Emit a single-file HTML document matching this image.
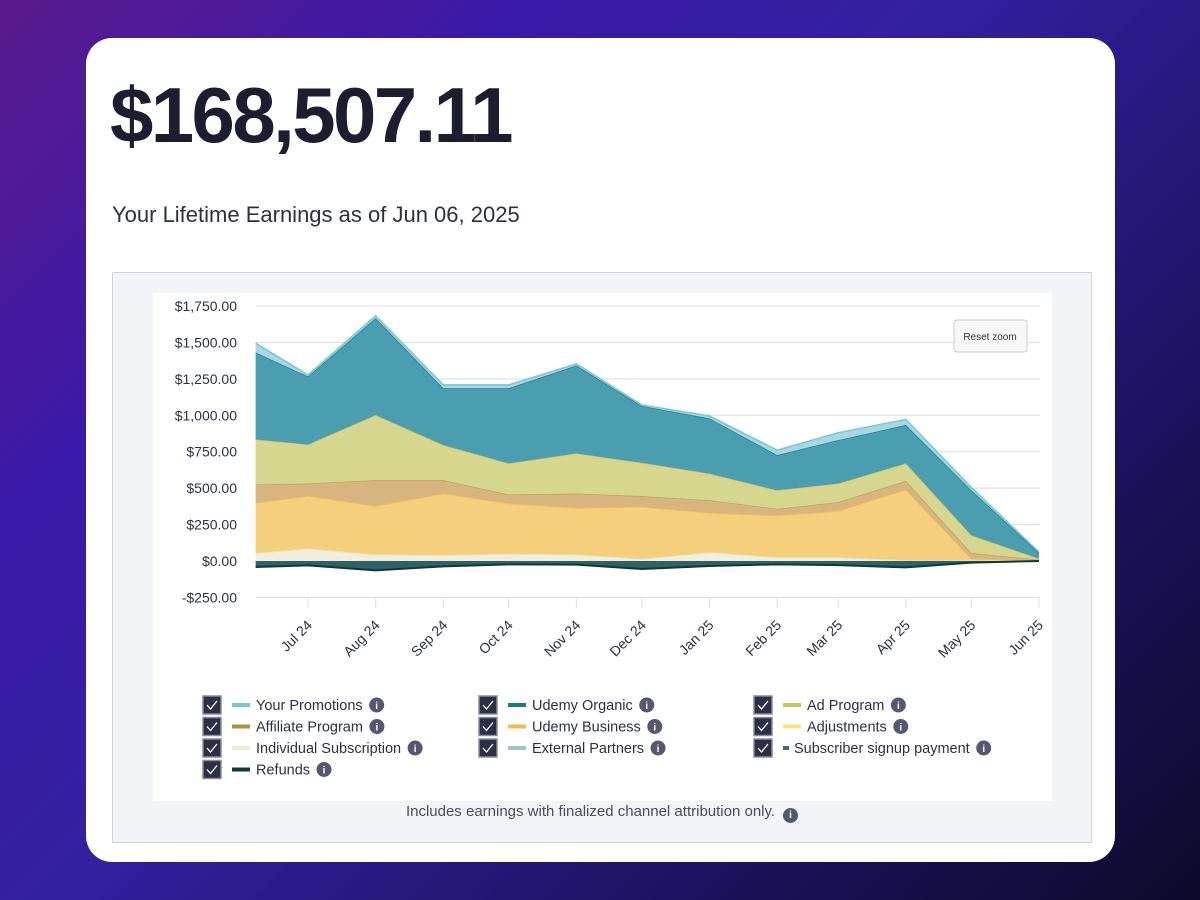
<!DOCTYPE html>
<html><head><meta charset="utf-8"><style>
*{margin:0;padding:0;box-sizing:border-box}
body{width:1200px;height:900px;overflow:hidden;font-family:"Liberation Sans",sans-serif;background:linear-gradient(135deg,#5a1a8c 0%,#3a1aa8 25%,#3320a0 45%,#1c1260 75%,#0d0a2a 100%);position:relative}
.card{position:absolute;left:86px;top:38px;width:1029px;height:824px;background:#fff;border-radius:26px}
h1{position:absolute;left:24px;top:32px;font-size:78px;font-weight:bold;color:#1c1d2f;letter-spacing:-2.6px}
.sub{position:absolute;left:26px;top:164px;font-size:22px;color:#2d2f45}
.panel{position:absolute;left:26px;top:234px;width:980px;height:571px;background:#f3f4f7;border:1px solid #d0d2dc}
.inner{position:absolute;left:40px;top:20px;width:899px;height:508px;background:#fff}
.note{position:absolute;left:0;width:100%;top:530px;text-align:center;font-size:15px;color:#4a4c60}
.info{display:inline-block;width:15px;height:15px;border-radius:50%;background:#555870;color:#fff;font-size:10px;font-weight:bold;text-align:center;line-height:15px;vertical-align:-2px;margin-left:8px}
</style></head><body>
<div class="card">
<h1>$168,507.11</h1>
<div class="sub">Your Lifetime Earnings as of Jun 06, 2025</div>
<div class="panel">
<div class="inner"></div>
<div class="note">Includes earnings with finalized channel attribution only.<span class="info">i</span></div>
</div></div>
<svg id="chart" width="1200" height="900" style="position:absolute;left:0;top:0"></svg>
<script>
const dates=["2024-06-07","2024-07-01","2024-08-01","2024-09-01","2024-10-01","2024-11-01","2024-12-01","2025-01-01","2025-02-01","2025-03-01","2025-04-01","2025-05-01","2025-06-01"];
const tickLabels=["Jul 24","Aug 24","Sep 24","Oct 24","Nov 24","Dec 24","Jan 25","Feb 25","Mar 25","Apr 25","May 25","Jun 25"];
const yTicks=[1750,1500,1250,1000,750,500,250,0,-250];
const individualSub=[55,85,45,40,50,45,15,60,25,25,5,5,0];
const udemyBusiness=[345,362,333,423,345,320,357,270,287,319,485,11,5];
const affiliate=[125,85,177,92,61,98,73,87,46,60,60,39,4];
const adProgram=[310,268,447,241,214,276,229,183,128,128,120,122,7];
const udemyOrganic=[596,466,665,390,516,603,390,379,241,298,263,309,41];
const promotions=[64,11,16,23,23,11,7,16,34,50,39,19,5];
const refunds=[-41,-30,-64,-37,-23,-25,-55,-34,-23,-28,-44,-11,0];
const NS="http://www.w3.org/2000/svg";
const svg=document.getElementById('chart');
const t0=Date.parse("2024-07-01"),t1=Date.parse("2025-06-01");
const X=d=>308+(Date.parse(d)-t0)/(t1-t0)*731;
const Y=v=>561-v*0.1457;
function mk(tag,a){const e=document.createElementNS(NS,tag);for(const k in a)e.setAttribute(k,a[k]);svg.appendChild(e);return e;}
yTicks.forEach(v=>{
 const l=mk('line',{x1:256,x2:1040,y1:Y(v),y2:Y(v),stroke:'#dcdcea','stroke-width':1});
 
 
 const t=mk('text',{x:237,y:Y(v)+5,'text-anchor':'end','font-size':14,fill:'#2d2f45','font-family':'Liberation Sans'});
 t.textContent=(v<0?'-$':'$')+Math.abs(v).toLocaleString('en-US',{minimumFractionDigits:2});
 
 
});
const series=[[individualSub,'#f1eedb','#e6e2c4'],[udemyBusiness,'#f6cf7c','#efbf5a'],[affiliate,'#d8b57e','#c4a062'],[adProgram,'#d6d68f','#c4c46a'],[udemyOrganic,'#4a9eb0','#1f7f93'],[promotions,'#a6d7e2','#7cc6d6']];
let base=dates.map(()=>0);
const names=['individual-subscription-area','udemy-business-area','affiliate-area','ad-program-area','udemy-organic-area','promotions-area'];
series.forEach(([vals,fill,stroke],i)=>{
 const top=base.map((b,j)=>b+vals[j]);
 let d='M'+dates.map((dt,j)=>X(dt)+','+Y(top[j])).join('L');
 d+='L'+dates.map((dt,j)=>[X(dt),Y(base[j])]).reverse().map(p=>p.join(',')).join('L')+'Z';
 const p=mk('path',{d:d,fill:fill});
 
 
 const ln=mk('path',{d:'M'+dates.map((dt,j)=>X(dt)+','+Y(top[j])).join('L'),fill:'none',stroke:stroke,'stroke-width':1.5});
 
 
 base=top;
});
{let d='M'+dates.map((dt,j)=>X(dt)+','+Y(refunds[j])).join('L')+'L'+X(dates[12])+','+Y(0)+'L'+X(dates[0])+','+Y(0)+'Z';
 const p=mk('path',{d:d,fill:'#2f6268'});
 
 
 const l=mk('path',{d:'M'+dates.map((dt,j)=>X(dt)+','+Y(refunds[j])).join('L'),fill:'none',stroke:'#0f383d','stroke-width':2});
 
 }
tickLabels.forEach((lab,i)=>{
 const x=X(dates[i+1]);
 const tk=mk('line',{x1:x,x2:x,y1:598,y2:608,stroke:'#dcdcea'});
 
 
 const t=mk('text',{x:x+5,y:626,'text-anchor':'end','font-size':14,fill:'#2d2f45','font-family':'Liberation Sans',transform:`rotate(-45 ${x+5} 626)`});
 t.textContent=lab;
 
 
});
const rz=mk('rect',{x:954,y:320,width:73,height:32,rx:3,fill:'#f7f7f7',stroke:'#cccccc'});


const rzt=mk('text',{x:990,y:340,'text-anchor':'middle','font-size':10,fill:'#333','font-family':'Liberation Sans'});
rzt.textContent='Reset zoom';


const legendNames=["Your Promotions","Udemy Organic","Ad Program","Affiliate Program","Udemy Business","Adjustments","Individual Subscription","External Partners","Subscriber signup payment","Refunds"];
const legendColors=["#7cc6d6","#1a7a8c","#c4c462","#b0913e","#f0bd4c","#f8e08a","#ecebd0","#9cc8c0","#3c7078","#0d3a3c"];
legendNames.forEach((n,i)=>{
 const col=i%3,row=Math.floor(i/3);
 const x=[203,479,754][col],y=696+row*21.5;
 const g=document.createElementNS(NS,'g');svg.appendChild(g);
 
 
 const add=(tag,a,txt)=>{const e=document.createElementNS(NS,tag);for(const k in a)e.setAttribute(k,a[k]);if(txt)e.textContent=txt;g.appendChild(e);return e;};
 add('rect',{x:x,y:y,width:18,height:18,fill:'#2d2f45',stroke:'#8a8ca0','stroke-width':1.5});
 add('path',{d:`M${x+4} ${y+9}l3.5 4l6.5-8`,fill:'none',stroke:'#fff','stroke-width':1.3});
 const small=i===8;
 add('rect',{x:x+29,y:y+7,width:small?6:18,height:4,fill:legendColors[i]});
 const tx=small?x+40:x+53;
 const t=add('text',{x:tx,y:y+14,'font-size':14.5,fill:'#2d2f45','font-family':'Liberation Sans'},n);
 const w=t.getComputedTextLength();
 add('circle',{cx:tx+w+14,cy:y+9,r:7.5,fill:'#555870'});
 add('text',{x:tx+w+14,y:y+13,'text-anchor':'middle','font-size':10,'font-weight':'bold',fill:'#fff','font-family':'Liberation Sans'},'i');
});
</script>
</body></html>
